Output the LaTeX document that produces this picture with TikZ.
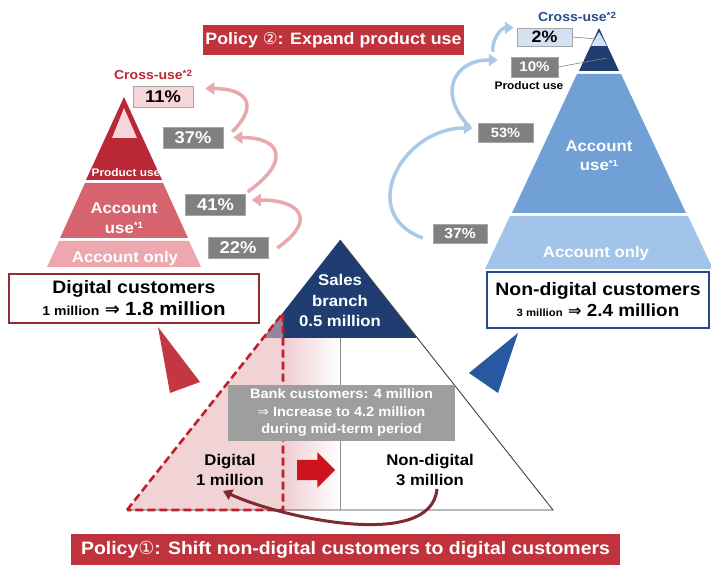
\documentclass[tikz,border=0pt]{standalone}
\usepackage{fontspec}
\setmainfont[FakeStretch=1.08]{Liberation Sans}
\newfontfamily\symfont{DejaVu Sans}
\usetikzlibrary{arrows.meta,shapes.arrows,calc}
\definecolor{cbanner}{RGB}{192,50,60}
\definecolor{cdred}{RGB}{185,40,52}
\definecolor{cmred}{RGB}{214,100,110}
\definecolor{clred}{RGB}{236,168,174}
\definecolor{cxred}{RGB}{246,214,217}
\definecolor{cdblue}{RGB}{31,61,112}
\definecolor{cmblue}{RGB}{112,160,214}
\definecolor{clblue}{RGB}{162,196,232}
\definecolor{cxblue}{RGB}{210,226,243}
\definecolor{cgray}{RGB}{128,128,128}
\definecolor{cinfo}{RGB}{158,158,158}
\definecolor{cparrow}{RGB}{232,168,174}
\definecolor{cbarrow}{RGB}{170,200,232}
\definecolor{cboxred}{RGB}{140,45,55}
\definecolor{cboxblue}{RGB}{40,75,135}
\definecolor{cxuse}{RGB}{40,75,140}
\definecolor{cwred}{RGB}{196,55,65}
\definecolor{cwblue}{RGB}{40,88,160}
\definecolor{cdash}{RGB}{192,30,40}
\definecolor{cshift}{RGB}{204,20,30}
\definecolor{ccurve}{RGB}{130,40,50}
\definecolor{cpinkfill}{RGB}{232,182,188}
\newcommand\fsz[2]{\fontsize{#1}{#2}\selectfont}
\newcommand\supnote[1]{\raisebox{.28em}{\fsz{9}{9}#1}}

\begin{document}
\begin{tikzpicture}[x=1pt,y=1pt,
          every node/.style={font=\bfseries, inner sep=0pt},
          banner/.style={fill=cbanner, text=white},
          pctbox/.style={draw=black!35, line width=.5pt, fill=cgray, text=white,
          minimum width=60pt, minimum height=21pt, font=\bfseries\fsz{17}{17}},
          custbox/.style={draw, line width=1.6pt, fill=white, align=center},
          pinkarr/.style={draw=cparrow, line width=3.5pt, -{Triangle[length=9pt,width=12pt]}},
          bluearr/.style={draw=cbarrow, line width=3.5pt, -{Triangle[length=9pt,width=12pt]}},
          hint/.style={draw=black!50, line width=.6pt},
        ]

          \path[fill=white, use as bounding box] (0,0) rectangle (711,565);

          % ── Digital pyramid (left) ───────────────────────────
          \fill[cdred] (124,468) -- (86,385) -- (162,385) -- cycle;
          \fill[cxred] (124,457) -- (112,427) -- (137,427) -- cycle;
          \fill[cmred] (85,382) -- (163,382) -- (188,327) -- (60,327) -- cycle;
          \fill[clred] (59,324) -- (189,324) -- (201,298) -- (47,298) -- cycle;
          \begin{scope}
            \clip (124,468) -- (86,385) -- (162,385) -- cycle;
            \node[text=white, font=\bfseries\fsz{11}{11}] (puL) at (126,392) {Product use};
          \end{scope}
          \node[text=white, align=center, font=\bfseries\fsz{15.5}{20}] (auL) at (124,347)
            {Account\\use\supnote{*1}};
          \node[text=white, font=\bfseries\fsz{15.5}{16}] (aoL) at (125,307) {Account only};
          \node[text=cdred, font=\bfseries\fsz{13}{13}] (xuL) at (153,490) {Cross-use\supnote{*2}};

          \node[pctbox, fill=cxred, text=black] (p11) at (163,468.5) {11\%};
          \node[pctbox] (p37l) at (193,427.5) {37\%};
          \node[pctbox] (p41)  at (215.5,360.5) {41\%};
          \node[pctbox] (p22)  at (238,317) {22\%};

          \draw[pinkarr] ($(p37l.north east)+(9,-5)$) to[out=45,in=0,looseness=2]
            ($(p11.east)+(12,8)$);
          \draw[pinkarr] ($(p41.north east)+(2,2)$) to[out=35,in=0,looseness=2.3]
            ($(p37l.east)+(10,0)$);
          \draw[pinkarr] ($(p22.east)+(9,0)$) to[out=35,in=0,looseness=2.3]
            ($(p41.east)+(6,4.5)$);

          % ── Non-digital pyramid (right) ──────────────────────
          \fill[cdblue] (599,537) -- (579,494) -- (619,494) -- cycle;
          \fill[cxblue] (599,533) -- (591,519) -- (607,519) -- cycle;
          \fill[cmblue] (577,491) -- (621,491) -- (686,352) -- (512,352) -- cycle;
          \fill[clblue] (510,349) -- (688,349) -- (713,296) -- (485,296) -- cycle;
          \coordinate (c2)  at (596,526);
          \coordinate (c10) at (607,507);
          \node[text=white, align=center, font=\bfseries\fsz{15.5}{19}] (auR) at (599,409)
            {Account\\use\supnote{*1}};
          \node[text=white, font=\bfseries\fsz{15.5}{16}] (aoR) at (596,312) {Account only};
          \node[text=cxuse, font=\bfseries\fsz{13}{13}] (xuR) at (577,548) {Cross-use\supnote{*2}};
          \node[text=black, font=\bfseries\fsz{11}{11}] (puR) at (529,479) {Product use};

          \node[pctbox, fill=cxblue, text=black, minimum width=55pt, minimum height=18pt,
            font=\bfseries\fsz{16.5}{16.5}] (p2) at (544.5,528) {2\%};
          \node[pctbox, minimum width=47pt, minimum height=20pt,
            font=\bfseries\fsz{14}{14}] (p10) at (534.5,498) {10\%};
          \node[pctbox, minimum width=55pt, minimum height=19pt,
            font=\bfseries\fsz{13.5}{13.5}] (p53) at (505.5,432.5) {53\%};
          \node[pctbox, minimum width=54pt, minimum height=19pt,
            font=\bfseries\fsz{14.5}{14.5}] (p37r) at (460,331.5) {37\%};

          \draw[hint] (p2.east) -- (c2);
          \draw[hint] (p10.east) -- (c10);

          \draw[bluearr] ($(p10.north west)+(-18,5)$) to[out=95,in=180]
            ($(p2.north west)+(-3,0)$);
          \draw[bluearr] ($(p53.west)+(-8,5.5)$) to[out=135,in=180,looseness=1.6]
            ($(p10.west)+(-13,7)$);
          \draw[bluearr] ($(p37r.west)+(-10,-4.5)$) to[out=160,in=180,looseness=1.5]
            ($(p53.west)+(-5,4.5)$);

          % ── Customer boxes and wedges ────────────────────────
          \node[custbox, draw=cboxred, minimum width=250pt, minimum height=49pt,
            font=\bfseries\fsz{18}{22}] (dcust) at (134,266.5)
            {Digital customers\\{\fsz{13}{13}1 million} {\symfont\fsz{18}{18}⇒} {\fsz{19}{19}1.8 million}};
          \node[custbox, draw=cboxblue, minimum width=222pt, minimum height=56pt,
            font=\bfseries\fsz{18}{21}] (ncust) at (598,265)
            {Non-digital customers\\{\fsz{10.5}{10.5}3 million} {\symfont\fsz{16}{16}⇒} {\fsz{17.5}{17.5}2.4 million}};

          \fill[cwred]  (158,238) -- (200,183) -- (170,172) -- cycle;
          \fill[cwblue] (518,232) -- (469,192) -- (498,172) -- cycle;

          % ── Bank customers triangle ──────────────────────────
          \shade[left color=cpinkfill!70, right color=white] (283,55) rectangle (340,227);
          \fill[cdblue] (340,325) -- (263,227) -- (417,227) -- cycle;
          \fill[cpinkfill, opacity=.6] (127,55) -- (283,252) -- (283,55) -- cycle;
          \draw[black!75, line width=.9pt] (340,325) -- (553,55) -- (127,55);
          \draw[black!45, line width=.8pt] (340,227) -- (340,55);
          \draw[cdash, line width=2.6pt, dash pattern=on 8pt off 4pt]
            (127,55) -- (283,252) -- (283,55) -- cycle;

          \node[text=white, align=center, font=\bfseries\fsz{15.5}{20.5}] (sales) at (340,264.5)
            {Sales\\branch\\0.5 million};
          \node[fill=cinfo, text=white, align=center, minimum width=227pt, minimum height=56pt,
            font=\bfseries\fsz{13.5}{17.5}] (bank) at (341.5,152)
            {Bank customers: 4 million\\{\symfont\mdseries ⇒} Increase to 4.2 million\\during mid-term period};
          \node[align=center, font=\bfseries\fsz{15.5}{20}] (dg) at (230,95) {Digital\\1 million};
          \node[align=center, font=\bfseries\fsz{15.5}{20}] (nd) at (430,95) {Non-digital\\3 million};
          \node[single arrow, fill=cshift, minimum height=38pt, inner xsep=0pt, inner ysep=10pt,
            single arrow head extend=7.5pt] (shift) at (311,95) {};

          \draw[ccurve, line width=3pt, -{Triangle[length=9pt,width=11pt]}]
            ($(nd.south)+(7,-3)$) to[out=-95,in=-25,looseness=.75] ($(dg.south)+(-7,-5)$);

          % ── Policy banners ───────────────────────────────────
          \node[banner, minimum width=261pt, minimum height=30pt, font=\bfseries\fsz{16.5}{16.5}]
            (pol2) at (333.5,525) {Policy {\symfont\mdseries ②}: Expand product use};
          \node[banner, minimum width=549pt, minimum height=31pt, font=\bfseries\fsz{18}{18}]
            (pol1) at (345.5,15.5) {Policy{\symfont\mdseries ①}: Shift non-digital customers to digital customers};

        \end{tikzpicture}
\end{document}
